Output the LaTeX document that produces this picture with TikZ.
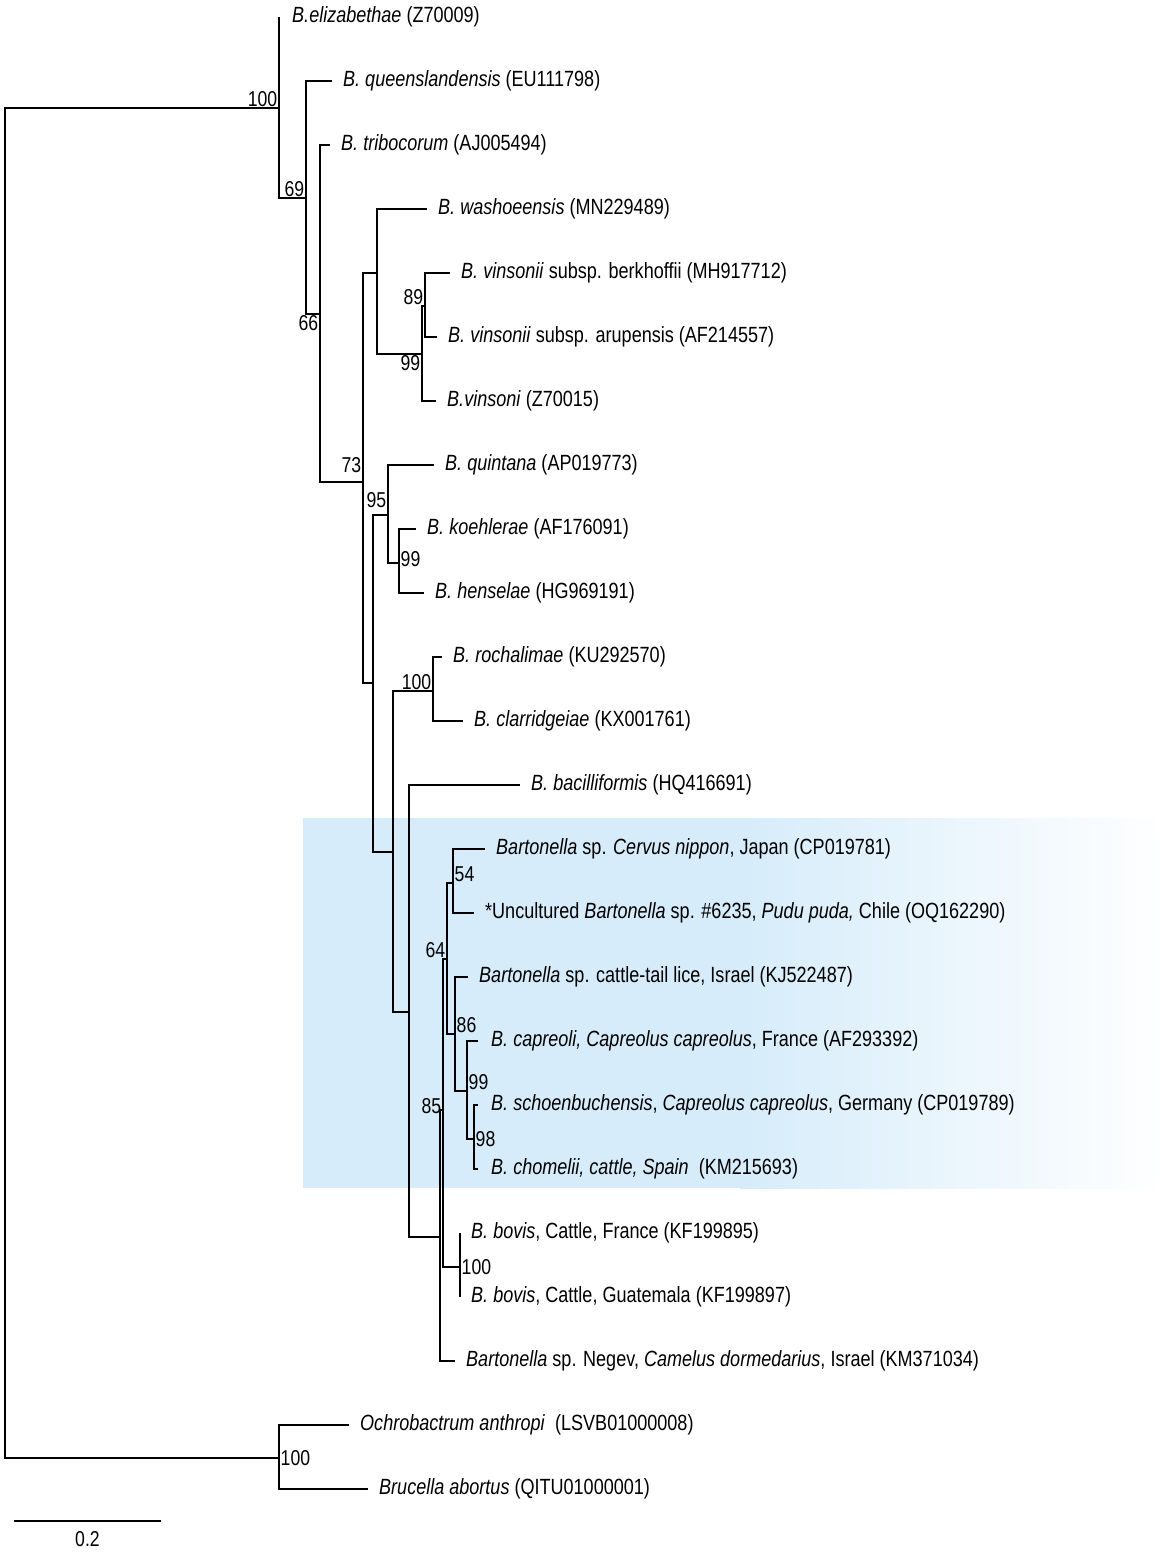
\documentclass[tikz,border=0pt]{standalone}
\usepackage{fontspec}
\setmainfont{Liberation Sans}[FakeStretch=0.82]
\usetikzlibrary{positioning}
\definecolor{cladeblue}{RGB}{214,236,250}
\tikzset{%
  branch/.style = {line width=1.2pt},%
  taxon/.style  = {anchor=west, inner sep=0pt, font=\fontsize{22}{25}\selectfont},%
  boot/.style   = {inner sep=1.5pt, font=\fontsize{21.5}{25}\selectfont}%
}
\begin{document}
\begin{tikzpicture}[x=1pt,y=-1pt,node distance=11pt]
	\useasboundingbox (0,0) rectangle (1170,1552);
	\fill[cladeblue] (303,818) rectangle (741,1188);
	\shade[left color=cladeblue,right color=white] (740,818) rectangle (1168,1188);
	\coordinate (root)  at (5,783);
	\coordinate (n100a) at (279,108);
	\coordinate (n69)   at (306,198);
	\coordinate (n66)   at (320,314);
	\coordinate (n73)   at (363,482);
	\coordinate (nwash) at (377,273);
	\coordinate (n99a)  at (422,354);
	\coordinate (n89)   at (425,306);
	\coordinate (nmid)  at (373,683);
	\coordinate (n95)   at (388,515);
	\coordinate (n99b)  at (399,563);
	\coordinate (nrest) at (393,852);
	\coordinate (n100b) at (433,691);
	\coordinate (nbac)  at (409,1012);
	\coordinate (nneg)  at (440,1237);
	\coordinate (n85)   at (443,1110);
	\coordinate (n64)   at (447,959);
	\coordinate (n54)   at (453,883);
	\coordinate (n86)   at (455,1034);
	\coordinate (n99c)  at (467,1091);
	\coordinate (n98)   at (474,1139);
	\coordinate (n100c) at (460,1267);
	\coordinate (nout)  at (279,1458);
	\coordinate (t-eliz)  at (279,17);
	\coordinate (t-queen) at (332,81);
	\coordinate (t-tribo) at (330,145);
	\coordinate (t-washo) at (427,209);
	\coordinate (t-berk)  at (450,273);
	\coordinate (t-arup)  at (437,337);
	\coordinate (t-vins)  at (436,401);
	\coordinate (t-quin)  at (434,465);
	\coordinate (t-koeh)  at (416,529);
	\coordinate (t-hens)  at (424,593);
	\coordinate (t-roch)  at (442,657);
	\coordinate (t-clar)  at (463,721);
	\coordinate (t-baci)  at (520,785);
	\coordinate (t-cerv)  at (485,849);
	\coordinate (t-pudu)  at (474,913);
	\coordinate (t-lice)  at (468,977);
	\coordinate (t-capr)  at (478,1041);
	\coordinate (t-scho)  at (478,1105);
	\coordinate (t-chom)  at (478,1169);
	\coordinate (t-bovf)  at (460,1233);
	\coordinate (t-bovg)  at (460,1297);
	\coordinate (t-nege)  at (455,1361);
	\coordinate (t-ochr)  at (349,1425);
	\coordinate (t-bruc)  at (368,1489);
	\draw[branch] (root) |- (n100a) (root) |- (nout)
		(n100a) |- (t-eliz) (n100a) |- (n69)
		(n69) |- (t-queen) (n69) |- (n66)
		(n66) |- (t-tribo) (n66) |- (n73)
		(n73) |- (nwash) (n73) |- (nmid)
		(nwash) |- (t-washo) (nwash) |- (n99a)
		(n99a) |- (n89) (n99a) |- (t-vins)
		(n89) |- (t-berk) (n89) |- (t-arup)
		(nmid) |- (n95) (nmid) |- (nrest)
		(n95) |- (t-quin) (n95) |- (n99b)
		(n99b) |- (t-koeh) (n99b) |- (t-hens)
		(nrest) |- (n100b) (nrest) |- (nbac)
		(n100b) |- (t-roch) (n100b) |- (t-clar)
		(nbac) |- (t-baci) (nbac) |- (nneg)
		(nneg) |- (n85) (nneg) |- (t-nege)
		(n85) |- (n64) (n85) |- (n100c)
		(n64) |- (n54) (n64) |- (n86)
		(n54) |- (t-cerv) (n54) |- (t-pudu)
		(n86) |- (t-lice) (n86) |- (n99c)
		(n99c) |- (t-capr) (n99c) |- (n98)
		(n98) |- (t-scho) (n98) |- (t-chom)
		(n100c) |- (t-bovf) (n100c) |- (t-bovg)
		(nout) |- (t-ochr) (nout) |- (t-bruc);
	\node[taxon, right=13pt of t-eliz] (eliz) {\textit{B.elizabethae} (Z70009)};
	\node[taxon, right=of t-queen] (queen) {\textit{B. queenslandensis} (EU111798)};
	\node[taxon, right=of t-tribo] (tribo) {\textit{B. tribocorum} (AJ005494)};
	\node[taxon, right=of t-washo] (washo) {\textit{B. washoeensis} (MN229489)};
	\node[taxon, right=of t-berk] (berk) {\textit{B. vinsonii} subsp. berkhoffii (MH917712)};
	\node[taxon, right=of t-arup] (arup) {\textit{B. vinsonii} subsp. arupensis (AF214557)};
	\node[taxon, right=of t-vins] (vins) {\textit{B.vinsoni} (Z70015)};
	\node[taxon, right=of t-quin] (quin) {\textit{B. quintana} (AP019773)};
	\node[taxon, right=of t-koeh] (koeh) {\textit{B. koehlerae} (AF176091)};
	\node[taxon, right=of t-hens] (hens) {\textit{B. henselae} (HG969191)};
	\node[taxon, right=of t-roch] (roch) {\textit{B. rochalimae} (KU292570)};
	\node[taxon, right=of t-clar] (clar) {\textit{B. clarridgeiae} (KX001761)};
	\node[taxon, right=of t-baci] (baci) {\textit{B. bacilliformis} (HQ416691)};
	\node[taxon, right=of t-cerv] (cerv) {\textit{Bartonella} sp. \textit{Cervus nippon}, Japan (CP019781)};
	\node[taxon, right=of t-pudu] (pudu) {*Uncultured \textit{Bartonella} sp. \#6235, \textit{Pudu puda,} Chile (OQ162290)};
	\node[taxon, right=of t-lice] (lice) {\textit{Bartonella} sp. cattle-tail lice, Israel (KJ522487)};
	\node[taxon, right=13pt of t-capr] (capr) {\textit{B. capreoli, Capreolus capreolus}, France (AF293392)};
	\node[taxon, right=13pt of t-scho] (scho) {\textit{B. schoenbuchensis}, \textit{Capreolus capreolus}, Germany (CP019789)};
	\node[taxon, right=13pt of t-chom] (chom) {\textit{B. chomelii, cattle, Spain}\ \ (KM215693)};
	\node[taxon, right=of t-bovf] (bovf) {\textit{B. bovis}, Cattle, France (KF199895)};
	\node[taxon, right=of t-bovg] (bovg) {\textit{B. bovis}, Cattle, Guatemala (KF199897)};
	\node[taxon, right=of t-nege] (nege) {\textit{Bartonella} sp. Negev, \textit{Camelus dormedarius}, Israel (KM371034)};
	\node[taxon, right=of t-ochr] (ochr) {\textit{Ochrobactrum anthropi}\ \ (LSVB01000008)};
	\node[taxon, right=of t-bruc] (bruc) {\textit{Brucella abortus} (QITU01000001)};
	\node[boot, above left] at (n100a) {100};
	\node[boot, above left] at (n69) {69};
	\node[boot, below left] at (n66) {66};
	\node[boot, above left, yshift=8pt] at (n73) {73};
	\node[boot, above left, yshift=6pt] at (n95) {95};
	\node[boot, above left] at (n89) {89};
	\node[boot, below left] at (n99a) {99};
	\node[boot, right, yshift=4pt] at (n99b) {99};
	\node[boot, above left] at (n100b) {100};
	\node[boot, above right] at (n54) {54};
	\node[boot, above left] at (n64) {64};
	\node[boot, above right] at (n86) {86};
	\node[boot, above right] at (n99c) {99};
	\node[boot, right] at (n98) {98};
	\node[boot, left, yshift=4pt] at (n85) {85};
	\node[boot, right] at (n100c) {100};
	\node[boot, right] at (nout) {100};
	\coordinate (sb-l) at (14,1521);
	\coordinate (sb-r) at (161,1521);
	\draw[branch] (sb-l) -- node[boot, below=8pt] (sb-txt) {0.2} (sb-r);
\end{tikzpicture}
\end{document}
